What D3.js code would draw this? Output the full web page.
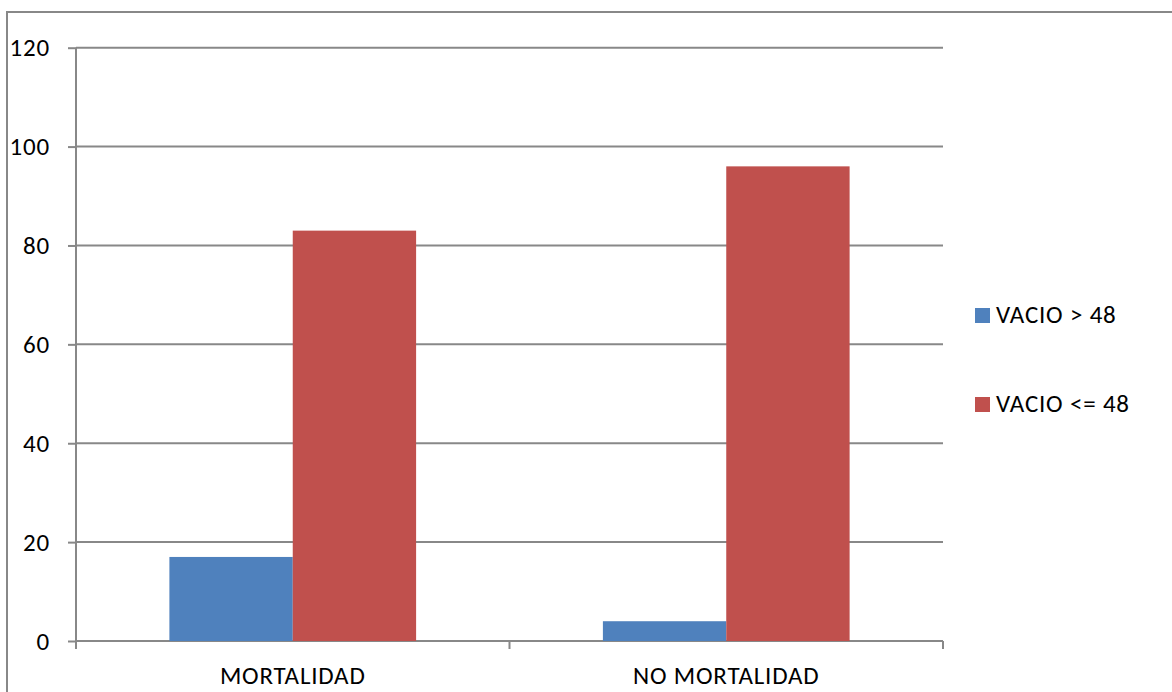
<!DOCTYPE html>
<html>
<head>
<meta charset="utf-8">
<script src="https://cdn.jsdelivr.net/npm/d3@7"></script>
<style>
  html, body { margin: 0; padding: 0; background: #fff; }
  svg { display: block; }
  text { font-family: Carlito, Calibri, Lato, sans-serif; fill: #000; letter-spacing: 0.8px; }
</style>
</head>
<body>
<svg id="chart" width="1172" height="692"></svg>
<script>
// Categories, series and values
const categories = ["MORTALIDAD", "NO MORTALIDAD"];
const seriesNames = ["VACIO > 48", "VACIO <= 48"];
const vacioMayor48 = [17, 4];
const vacioMenorIgual48 = [83, 96];
const yTicks = [0, 20, 40, 60, 80, 100, 120];
const seriesColors = ["#4F81BD", "#C0504D"];

const seriesValues = [vacioMayor48, vacioMenorIgual48];
const rows = categories.map((c, i) => ({
  category: c,
  values: seriesNames.map((s, j) => ({ series: s, value: seriesValues[j][i], idx: j }))
}));

const svg = d3.select("#chart");
const plot = { left: 76, right: 943, top: 47.7, bottom: 641 };
const gridColor = "#888888";
const fontSize = 25;

// Outer chart frame
svg.append("rect")
  .attr("x", 7).attr("y", 12)
  .attr("width", 1172).attr("height", 700)
  .attr("fill", "none").attr("stroke", gridColor).attr("stroke-width", 2);

const x = d3.scaleBand().domain(categories).range([plot.left, plot.right]).paddingInner(0).paddingOuter(0);
const inner = d3.scaleBand().domain(seriesNames).range([0, x.bandwidth()]).paddingInner(0).paddingOuter(0.7571);
const y = d3.scaleLinear().domain([0, 120]).range([plot.bottom, plot.top]);

// Horizontal gridlines
svg.append("g").selectAll("line").data(yTicks).join("line")
  .attr("x1", plot.left).attr("x2", plot.right)
  .attr("y1", d => y(d)).attr("y2", d => y(d))
  .attr("stroke", gridColor).attr("stroke-width", 2);

// Bars
const groups = svg.append("g").selectAll("g").data(rows).join("g")
  .attr("transform", d => `translate(${x(d.category)},0)`);
groups.selectAll("rect").data(d => d.values).join("rect")
  .attr("x", d => inner(d.series))
  .attr("width", inner.bandwidth())
  .attr("y", d => y(d.value))
  .attr("height", d => y(0) - y(d.value))
  .attr("fill", d => seriesColors[d.idx]);

// Y axis
const yAxis = svg.append("g")
  .attr("transform", `translate(${plot.left},0)`)
  .call(d3.axisLeft(y).tickValues(yTicks).tickSize(8).tickPadding(18).tickSizeOuter(0));
yAxis.select(".domain").attr("stroke", gridColor).attr("stroke-width", 2)
  .attr("d", `M0,${plot.top}V${plot.bottom + 8}`);
yAxis.selectAll(".tick line").attr("stroke", gridColor).attr("stroke-width", 2);
yAxis.selectAll(".tick text").attr("font-size", fontSize).attr("font-family", null).attr("fill", "#000");

// X axis
const xAxis = svg.append("g")
  .attr("transform", `translate(0,${plot.bottom})`)
  .call(d3.axisBottom(x).tickSize(0).tickPadding(25).tickSizeOuter(0));
xAxis.select(".domain").remove();
xAxis.selectAll(".tick text").attr("font-size", fontSize).attr("font-family", null).attr("fill", "#000");
// category separators
const sepPos = [plot.left, x(categories[1]), plot.right];
xAxis.selectAll("line.sep").data(sepPos).join("line")
  .attr("class", "sep")
  .attr("x1", d => d).attr("x2", d => d)
  .attr("y1", 0).attr("y2", 8)
  .attr("stroke", gridColor).attr("stroke-width", 2);

// Legend
const legend = svg.append("g").attr("transform", "translate(975,308)");
const li = legend.selectAll("g").data(seriesNames).join("g")
  .attr("transform", (d, i) => `translate(0,${i * 89})`);
li.append("rect").attr("width", 15).attr("height", 15)
  .attr("fill", (d, i) => seriesColors[i]);
li.append("text").attr("x", 21).attr("y", 15)
  .attr("font-size", fontSize).text(d => d);
</script>
</body>
</html>
